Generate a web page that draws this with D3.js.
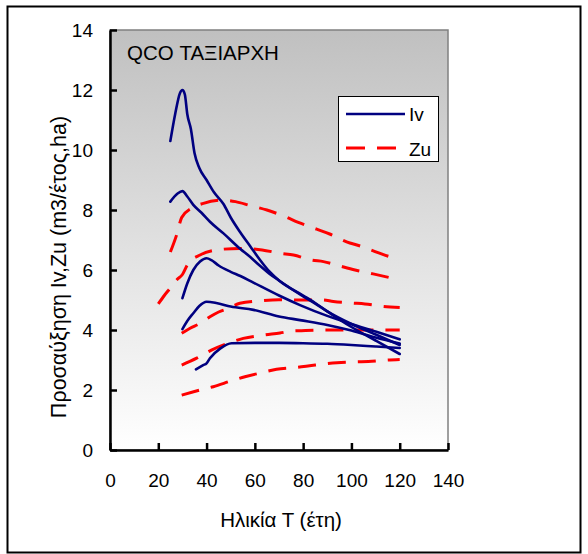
<!DOCTYPE html>
<html>
<head>
<meta charset="utf-8">
<script src="https://cdn.jsdelivr.net/npm/d3@7"></script>
<style>
  html, body { margin: 0; padding: 0; background: #fff; }
  svg { display: block; font-family: "Liberation Sans", Arial, sans-serif; }
</style>
</head>
<body>
<svg id="chart" width="588" height="554"></svg>
<script>
// Current annual increment (Iv) curves, age in years vs m3/year/ha
const ivA = [[25,10.3],[27,11.2],[29,11.9],[30,12.0],[31,11.85],[32,11.2],[33.5,10.7],[35,9.9],[37,9.4],[40,9.0],[43,8.6],[47,8.2],[50,7.75],[54,7.25],[58,6.8],[62,6.35],[66,5.95],[70,5.65],[80,5.15],[85,4.9],[90,4.62],[100,4.1],[110,3.65],[120,3.2]];
const ivB = [[25,8.28],[28,8.55],[30,8.63],[32,8.45],[34.5,8.17],[38,7.9],[41.4,7.61],[47,7.22],[54,6.7],[58,6.44],[62,6.15],[66,5.88],[70,5.65],[80,5.12],[85,4.88],[90,4.62],[100,4.2],[110,3.85],[120,3.5]];
const ivC = [[30,5.06],[32,5.55],[34.5,6.0],[37.3,6.28],[40,6.39],[42,6.33],[45,6.15],[50,5.94],[54,5.8],[59.4,5.58],[70,5.15],[78.7,4.83],[90,4.47],[100,4.2],[110,3.95],[120,3.69]];
const ivD = [[30,4.03],[32,4.3],[34.5,4.56],[37,4.8],[40,4.94],[44,4.9],[50,4.78],[59.4,4.67],[70,4.45],[78.7,4.33],[90,4.17],[100,3.98],[110,3.75],[120,3.55]];
const ivE = [[35.6,2.69],[38.6,2.83],[40,2.89],[41.4,3.06],[45.6,3.38],[50.4,3.56],[60,3.57],[70,3.57],[80,3.56],[90,3.54],[100,3.5],[110,3.45],[120,3.4]];

// Mean annual increment (Zu) curves
const zu1 = [[25,6.6],[27.6,7.17],[29.7,7.75],[33.8,8.06],[38.7,8.22],[47,8.33],[52,8.28],[58,8.15],[65,8.0],[72.5,7.78],[78,7.59],[85.6,7.36],[91,7.2],[98,6.94],[103.6,6.8],[111,6.58],[116,6.44],[120,6.37]];
const zu2 = [[20,4.87],[22.5,5.15],[25,5.4],[27.6,5.67],[30,5.85],[32.4,6.22],[37.3,6.5],[44.2,6.67],[53.8,6.72],[63,6.67],[70.4,6.56],[76,6.5],[83.5,6.33],[88.4,6.28],[95.3,6.13],[101.5,6.0],[109,5.87],[114,5.78],[120,5.67]];
const zu3 = [[29.7,3.89],[33,4.05],[37.3,4.22],[41.4,4.44],[45,4.6],[49,4.72],[53.8,4.89],[62,4.97],[70,5.01],[80,5.0],[88,5.0],[92.5,4.95],[100,4.9],[105.6,4.87],[113,4.79],[120,4.75]];
const zu4 = [[29.7,2.83],[35.9,3.06],[42,3.33],[49,3.56],[55.2,3.72],[63.5,3.83],[70.4,3.9],[76,3.97],[81,3.98],[90,4.0],[100,4.0],[110,4.0],[120,4.0]];
const zu5 = [[29.7,1.83],[35,1.95],[37.3,2.0],[42.8,2.11],[50.4,2.31],[55.9,2.44],[63.5,2.59],[69,2.69],[76,2.74],[85,2.83],[94,2.91],[102,2.94],[107,2.95],[115,3.0],[120,3.02]];

const ivSeries = [ivA, ivB, ivC, ivD, ivE];
const zuSeries = [zu1, zu2, zu3, zu4, zu5];

const xTicks = [0, 20, 40, 60, 80, 100, 120, 140];
const yTicks = [0, 2, 4, 6, 8, 10, 12, 14];

const chartTitle = "QCO ΤΑΞΙΑΡΧΗ";
const xTitle = "Ηλικία Τ (έτη)";
const yTitle = "Προσαύξηση Ιv,Zu (m3/έτος,ha)";
const legendLabels = ["Iv", "Zu"];

const svg = d3.select("#chart");

// outer frame
svg.append("rect")
  .attr("x", 7.5).attr("y", 6.5).attr("width", 573).attr("height", 546)
  .attr("fill", "#fff").attr("stroke", "#000").attr("stroke-width", 2);

const plot = { left: 110, right: 448, top: 30, bottom: 450 };

const x = d3.scaleLinear().domain([0, 140]).range([plot.left, plot.right]);
const y = d3.scaleLinear().domain([0, 14]).range([plot.bottom, plot.top]);

// plot area gradient
const defs = svg.append("defs");
const grad = defs.append("linearGradient").attr("id", "bg")
  .attr("x1", 0).attr("y1", 0).attr("x2", 0).attr("y2", 1);
grad.append("stop").attr("offset", "0%").attr("stop-color", "#c0c0c0");
grad.append("stop").attr("offset", "100%").attr("stop-color", "#ffffff");

svg.append("rect")
  .attr("x", plot.left).attr("y", plot.top)
  .attr("width", plot.right - plot.left).attr("height", plot.bottom - plot.top)
  .attr("fill", "url(#bg)").attr("stroke", "#808080").attr("stroke-width", 1.5);

// lines
const line = d3.line().x(d => x(d[0])).y(d => y(d[1])).curve(d3.curveMonotoneX);

svg.append("g").selectAll("path").data(zuSeries).join("path")
  .attr("d", line)
  .attr("fill", "none").attr("stroke", "#ff0000").attr("stroke-width", 3)
  .attr("stroke-dasharray", "18,12");

svg.append("g").selectAll("path").data(ivSeries).join("path")
  .attr("d", line)
  .attr("fill", "none").attr("stroke", "#000080").attr("stroke-width", 2.6)
  .attr("stroke-linejoin", "round").attr("stroke-linecap", "round");

// axes
const tickFont = 19;
const xAxis = d3.axisBottom(x).tickValues(xTicks).tickSizeInner(-7).tickSizeOuter(0).tickPadding(24);
const gx = svg.append("g").attr("transform", `translate(0,${plot.bottom})`).call(xAxis);
gx.select(".domain").attr("stroke", "#000").attr("stroke-width", 2.5);
gx.selectAll(".tick line").attr("stroke", "#000").attr("stroke-width", 2.5);
gx.selectAll(".tick text").attr("font-size", tickFont).attr("fill", "#000")
  .attr("font-family", "Liberation Sans, Arial, sans-serif");

const yAxis = d3.axisLeft(y).tickValues(yTicks).tickSizeInner(-7).tickSizeOuter(0).tickPadding(17);
const gy = svg.append("g").attr("transform", `translate(${plot.left},0)`).call(yAxis);
gy.select(".domain").attr("stroke", "#000").attr("stroke-width", 2.5);
gy.selectAll(".tick line").attr("stroke", "#000").attr("stroke-width", 2.5);
gy.selectAll(".tick text").attr("font-size", tickFont).attr("fill", "#000")
  .attr("font-family", "Liberation Sans, Arial, sans-serif");

// titles
svg.append("text").attr("x", 127).attr("y", 60)
  .attr("font-size", 20.5).text(chartTitle);

svg.append("text").attr("x", 281).attr("y", 527)
  .attr("text-anchor", "middle").attr("font-size", 20.5).text(xTitle);

svg.append("text")
  .attr("transform", `translate(66,267) rotate(-90)`)
  .attr("text-anchor", "middle").attr("font-size", 21.5).text(yTitle);

// legend
const lg = svg.append("g");
lg.append("rect").attr("x", 338.5).attr("y", 96.5).attr("width", 100).attr("height", 65)
  .attr("fill", "#fff").attr("stroke", "#000").attr("stroke-width", 1);
lg.append("line").attr("x1", 346).attr("x2", 405).attr("y1", 114).attr("y2", 114)
  .attr("stroke", "#000080").attr("stroke-width", 2.6);
lg.append("line").attr("x1", 346).attr("x2", 397).attr("y1", 148).attr("y2", 148)
  .attr("stroke", "#ff0000").attr("stroke-width", 3).attr("stroke-dasharray", "19,12");
lg.append("text").attr("x", 409).attr("y", 121).attr("font-size", 19).text(legendLabels[0]);
lg.append("text").attr("x", 409).attr("y", 156).attr("font-size", 19).text(legendLabels[1]);
</script>
</body>
</html>
